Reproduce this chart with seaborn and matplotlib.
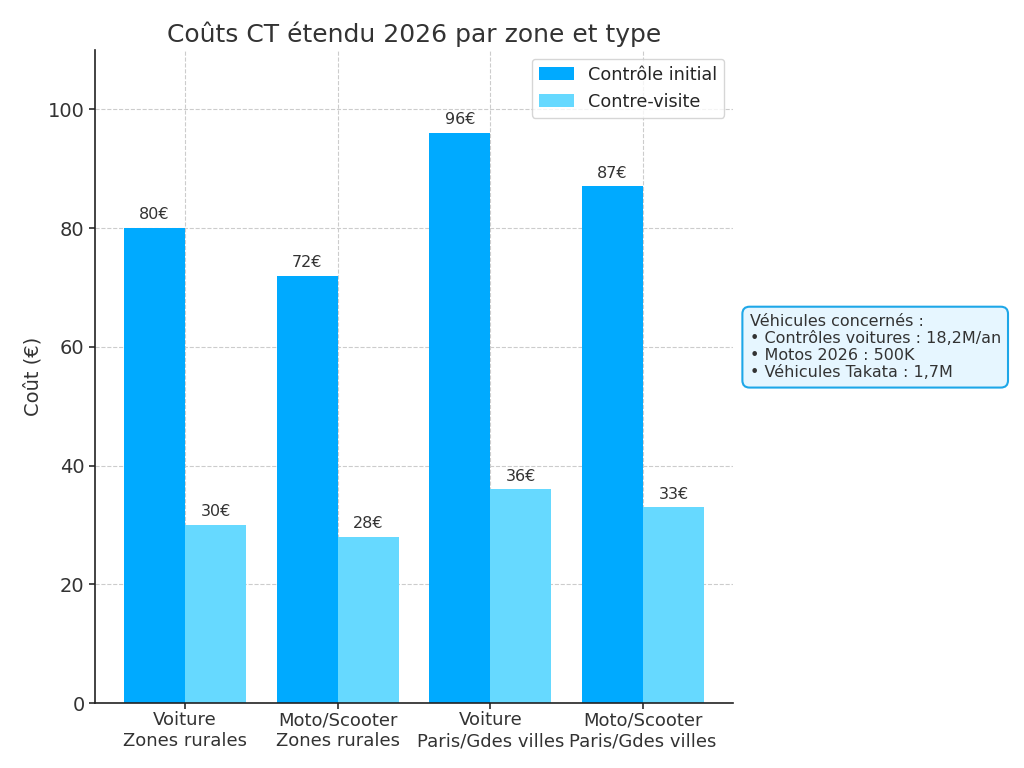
import matplotlib
matplotlib.use("Agg")
import matplotlib.pyplot as plt
import seaborn as sns
import pandas as pd

categories = ["Voiture\nZones rurales", "Moto/Scooter\nZones rurales",
              "Voiture\nParis/Gdes villes", "Moto/Scooter\nParis/Gdes villes"]
series_names = ["Contrôle initial", "Contre-visite"]
controle_initial = [80, 72, 96, 87]
contre_visite = [30, 28, 36, 33]
colors = ["#00AAFF", "#66D9FF"]
info_text = ("Véhicules concernés :\n• Contrôles voitures : 18,2M/an\n"
             "• Motos 2026 : 500K\n• Véhicules Takata : 1,7M")

df = pd.DataFrame({
    "cat": categories * 2,
    "serie": [series_names[0]] * 4 + [series_names[1]] * 4,
    "val": controle_initial + contre_visite,
})

sns.set_theme(style="whitegrid")
plt.rcParams['font.family'] = ['DejaVu Sans']

fig = plt.figure(figsize=(10.24, 7.68), dpi=100)
ax = fig.add_axes([0.0928, 0.0846, 0.6230, 0.8504])

sns.barplot(data=df, x="cat", y="val", hue="serie", palette=colors,
            saturation=1, width=0.8, ax=ax, errorbar=None, order=categories,
            hue_order=series_names, linewidth=0, edgecolor="none")

for cont in ax.containers:
    ax.bar_label(cont, labels=[f"{int(v)}€" for v in cont.datavalues],
                 padding=4, fontsize=11.5, color="#333333")

ax.set_ylim(0, 110)
ax.set_xlim(-0.59, 3.59)
ax.set_yticks([0, 20, 40, 60, 80, 100])
ax.set_xlabel("")
ax.set_ylabel("Coût (€)", fontsize=14, color="#333333")
ax.set_title("Coûts CT étendu 2026 par zone et type", fontsize=18, color="#333333")
ax.tick_params(axis="y", labelsize=14, colors="#333333", left=True, length=4)
ax.tick_params(axis="x", labelsize=13, colors="#333333", bottom=True, length=4, pad=2)
ax.grid(True, linestyle="--", color="#cccccc", linewidth=0.8)
ax.set_axisbelow(True)
for s in ["top", "right"]:
    ax.spines[s].set_visible(False)
for s in ["left", "bottom"]:
    ax.spines[s].set_color("#222222")
    ax.spines[s].set_linewidth(1.2)

leg = ax.legend(loc="upper right", fontsize=12.7, frameon=True)
leg.get_frame().set_edgecolor("#cccccc")

fig.text(0.732, 0.548, info_text, fontsize=11.5, color="#333333",
         va="center", ha="left", linespacing=1.18,
         bbox=dict(boxstyle="round,pad=0.45", facecolor="#E6F6FF",
                   edgecolor="#1EA7E8", linewidth=1.5))

fig.savefig("out.png", dpi=100)
